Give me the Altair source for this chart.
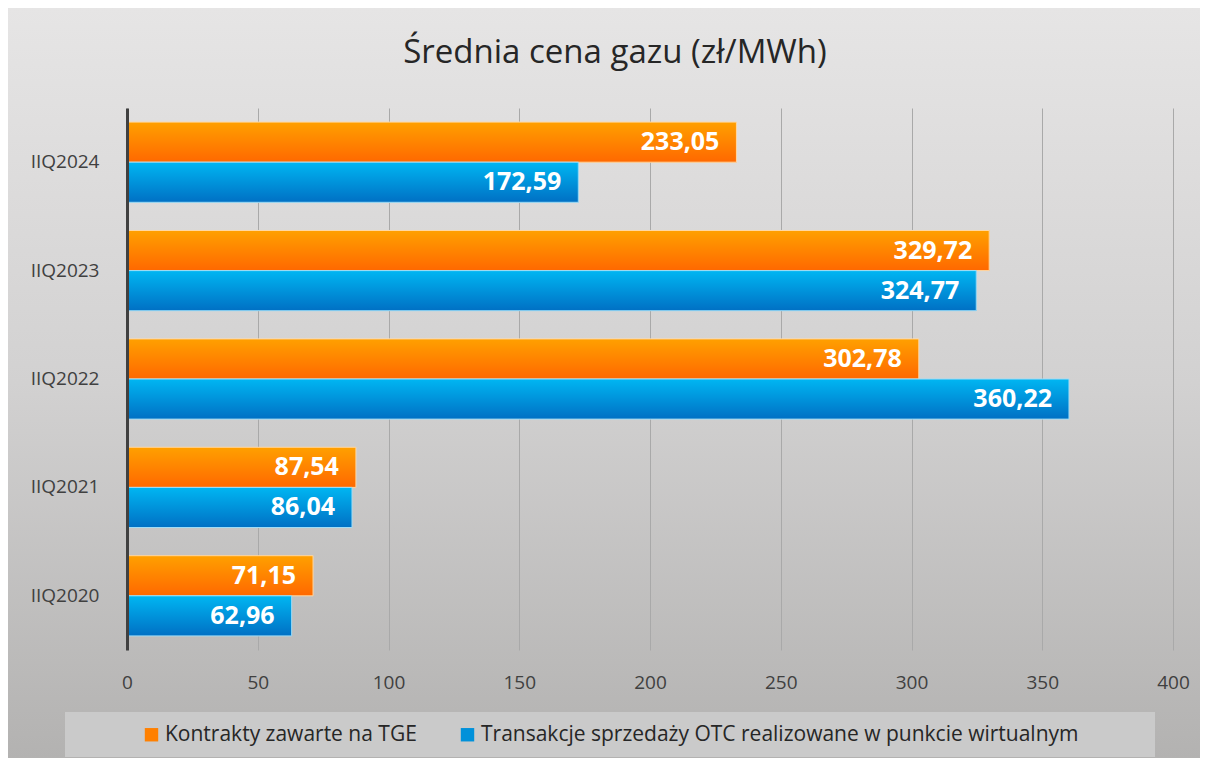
import altair as alt
import pandas as pd

# ---- data ----
quarters = ["IIQ2024", "IIQ2023", "IIQ2022", "IIQ2021", "IIQ2020"]
tge_values = [233.05, 329.72, 302.78, 87.54, 71.15]
otc_values = [172.59, 324.77, 360.22, 86.04, 62.96]
series_names = [
    "Kontrakty zawarte na TGE",
    "Transakcje sprzedaży OTC realizowane w punkcie wirtualnym",
]
x_ticks = [0, 50, 100, 150, 200, 250, 300, 350, 400]
title_text = "Średnia cena gazu (zł/MWh)"

rows = []
for q, a, b in zip(quarters, tge_values, otc_values):
    rows.append({"quarter": q, "series": series_names[0], "value": a})
    rows.append({"quarter": q, "series": series_names[1], "value": b})
df = pd.DataFrame(rows)

# ---- layout ----
W, H = 1192, 750
PLOT_TOP, PLOT_BOTTOM = 100, 642
FONT = "Open Sans"

x_scale = alt.Scale(domain=[0, 400], range=[119, 1165], nice=False, zero=True)
y_scale = alt.Scale(domain=quarters, range=[PLOT_TOP, PLOT_BOTTOM],
                    paddingInner=0.26, paddingOuter=0.13)
off_scale = alt.Scale(domain=series_names, paddingInner=0, paddingOuter=0)

# grid-only axis (top orient so the grid follows the y range)
x_grid = alt.X(
    "value:Q", scale=x_scale,
    axis=alt.Axis(values=x_ticks, orient="top", title=None, grid=True,
                  gridColor="#a9a9a9", gridWidth=1, ticks=False, domain=False,
                  labels=False),
)
# label axis at the bottom of the plot area
x_labels = alt.X(
    "value:Q", scale=x_scale,
    axis=alt.Axis(values=x_ticks, orient="bottom", title=None, offset=-(H - PLOT_BOTTOM),
                  grid=False, ticks=False, domain=False, labelFontSize=19,
                  labelFont=FONT, labelColor="#404040", labelPadding=23,
                  labelFlush=False),
)
x_plain = alt.X("value:Q", scale=x_scale, axis=None)

y_enc = alt.Y(
    "quarter:N",
    scale=y_scale,
    axis=alt.Axis(
        title=None, offset=-119, grid=False, ticks=False, domain=True,
        domainColor="#404040", domainWidth=3, labelFontSize=19, labelFont=FONT,
        labelColor="#404040", labelPadding=28, zindex=1,
    ),
)
yoff_enc = alt.YOffset("series:N", scale=off_scale)

# blank spacer entries widen the legend box on both sides
legend_domain = [" ", series_names[0], series_names[1], "  "]
legend_range = ["rgba(0,0,0,0)", "#ff8000", "#0091da", "rgba(0,0,0,0)"]

base = alt.Chart(df)

under = base.mark_bar().encode(
    x=x_grid,
    y=y_enc,
    yOffset=yoff_enc,
    color=alt.Color(
        "series:N",
        scale=alt.Scale(domain=legend_domain, range=legend_range),
        legend=alt.Legend(
            title=None, orient="none", legendX=57, legendY=704, direction="horizontal",
            fillColor="#cacaca", padding=12, columnPadding=40, labelOffset=3,
            symbolType="square", symbolSize=180, symbolStrokeWidth=0,
            labelFontSize=21, labelFont=FONT, labelColor="#262626", labelLimit=1000,
        ),
    ),
)

grad_tge = alt.LinearGradient(
    gradient="linear",
    stops=[alt.GradientStop(color="#ffa000", offset=0),
           alt.GradientStop(color="#ff6800", offset=1)],
    x1=0, x2=0, y1=0, y2=1,
)
grad_otc = alt.LinearGradient(
    gradient="linear",
    stops=[alt.GradientStop(color="#00b6f2", offset=0),
           alt.GradientStop(color="#0070c4", offset=1)],
    x1=0, x2=0, y1=0, y2=1,
)

bars_tge = base.transform_filter(alt.datum.series == series_names[0]).mark_bar(
    color=grad_tge, stroke="#ffd9a6", strokeWidth=1
).encode(x=x_plain, y=y_enc, yOffset=yoff_enc)

bars_otc = base.transform_filter(alt.datum.series == series_names[1]).mark_bar(
    color=grad_otc, stroke="#9fdcf6", strokeWidth=1
).encode(x=x_plain, y=y_enc, yOffset=yoff_enc)

labels = base.transform_calculate(
    label="replace(format(datum.value, '.2f'), '.', ',')"
).mark_text(
    align="right", baseline="middle", dx=-17, color="white", font=FONT,
    fontWeight="bold", fontSize=25,
).encode(x=x_labels, y=y_enc, yOffset=yoff_enc, text="label:N")

view_fill = alt.ExprRef(
    expr="{gradient: 'linear', x1: 0, y1: 0, x2: 0, y2: 1, stops: ["
    "{offset: 0, color: '#e6e5e5'}, {offset: 0.5, color: '#d2d1d1'}, "
    "{offset: 1, color: '#b3b2b1'}]}"
)

chart = alt.layer(under, bars_tge, bars_otc, labels).resolve_axis(
    x="independent"
).properties(
    width=W,
    height=H,
    padding=0,
    autosize=alt.AutoSizeParams(type="none"),
    title=alt.Title(
        text=title_text, font=FONT, fontSize=33, fontWeight="normal",
        color="#262626", anchor="middle", frame="group", offset=-88,
        baseline="alphabetic", dx=11,
    ),
).configure_view(fill=view_fill, strokeWidth=0)

chart.save("out.html", embed_options={"renderer": "svg", "actions": False})
